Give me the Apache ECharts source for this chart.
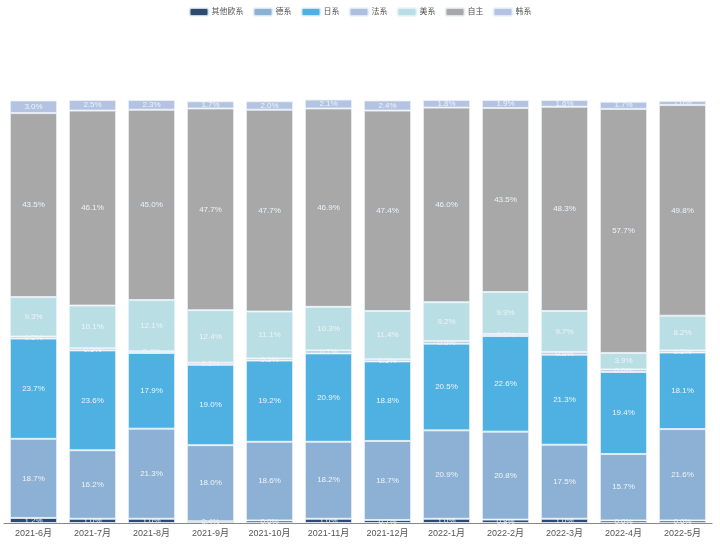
<!DOCTYPE html>
<html><head><meta charset="utf-8">
<script src="https://cdn.jsdelivr.net/npm/echarts@6/dist/echarts.min.js"></script>
<style>html,body{margin:0;padding:0;background:#fff}#c{width:720px;height:550px}</style>
</head><body><div id="c"></div>
<script>
var categories = ['2021-6月','2021-7月','2021-8月','2021-9月','2021-10月','2021-11月','2021-12月','2022-1月','2022-2月','2022-3月','2022-4月','2022-5月'];
var seriesNames = ['其他欧系','德系','日系','法系','美系','自主','韩系'];
var otherEU = [1.2,1.0,1.0,0.4,0.6,1.0,0.7,1.0,0.8,1.0,0.6,0.6];
var german  = [18.7,16.2,21.3,18.0,18.6,18.2,18.7,20.9,20.8,17.5,15.7,21.6];
var japan   = [23.7,23.6,17.9,19.0,19.2,20.9,18.8,20.5,22.6,21.3,19.4,18.1];
var french  = [0.5,0.5,0.4,0.5,0.5,0.7,0.5,0.6,0.5,0.6,0.6,0.5];
var usa     = [9.3,10.1,12.1,12.4,11.1,10.3,11.4,9.2,9.9,9.7,3.9,8.2];
var domestic= [43.5,46.1,45.0,47.7,47.7,46.9,47.4,46.0,43.5,48.3,57.7,49.8];
var korea   = [3.0,2.5,2.3,1.7,2.0,2.1,2.4,1.8,1.9,1.6,1.7,1.0];
var colors = ['#2d4a70','#8db1d4','#4eb1e2','#aebee0','#b9dee4','#a8a8a8','#b3c3e1'];
var values = [otherEU, german, japan, french, usa, domestic, korea];
var FONT = "'Liberation Sans','Noto Sans CJK SC',sans-serif";

var series = seriesNames.map(function(n,i){
  return {
    name:n, type:'bar', stack:'total', barWidth:'80%',
    data: values[i],
    itemStyle:{color:colors[i], borderColor:'rgba(235,242,250,0.8)', borderWidth:1},
    label:{show:true, position:'inside', color:'#eef3f8', fontSize:8, fontFamily:FONT,
      formatter:function(p){return p.value.toFixed(1)+'%';}}
  };
});
var chart = echarts.init(document.getElementById('c'));
chart.setOption({
  animation:false,
  color:colors,
  legend:{top:2, left:'center', itemWidth:19, itemHeight:8, itemGap:9, icon:'roundRect',
    textStyle:{color:'#555', fontSize:8, fontFamily:FONT, padding:[0,0,0,-2]}},
  grid:{left:4, right:8, top:100, bottom:27, containLabel:false},
  xAxis:{type:'category', data:categories,
    axisLine:{lineStyle:{color:'#888'}}, axisTick:{lineStyle:{color:'#888'}},
    axisLabel:{color:'#555', fontSize:9, fontFamily:FONT, margin:6, interval:0}},
  yAxis:{type:'value', min:0, max:100, show:false, splitLine:{show:false}},
  series:series
});
</script></body></html>
